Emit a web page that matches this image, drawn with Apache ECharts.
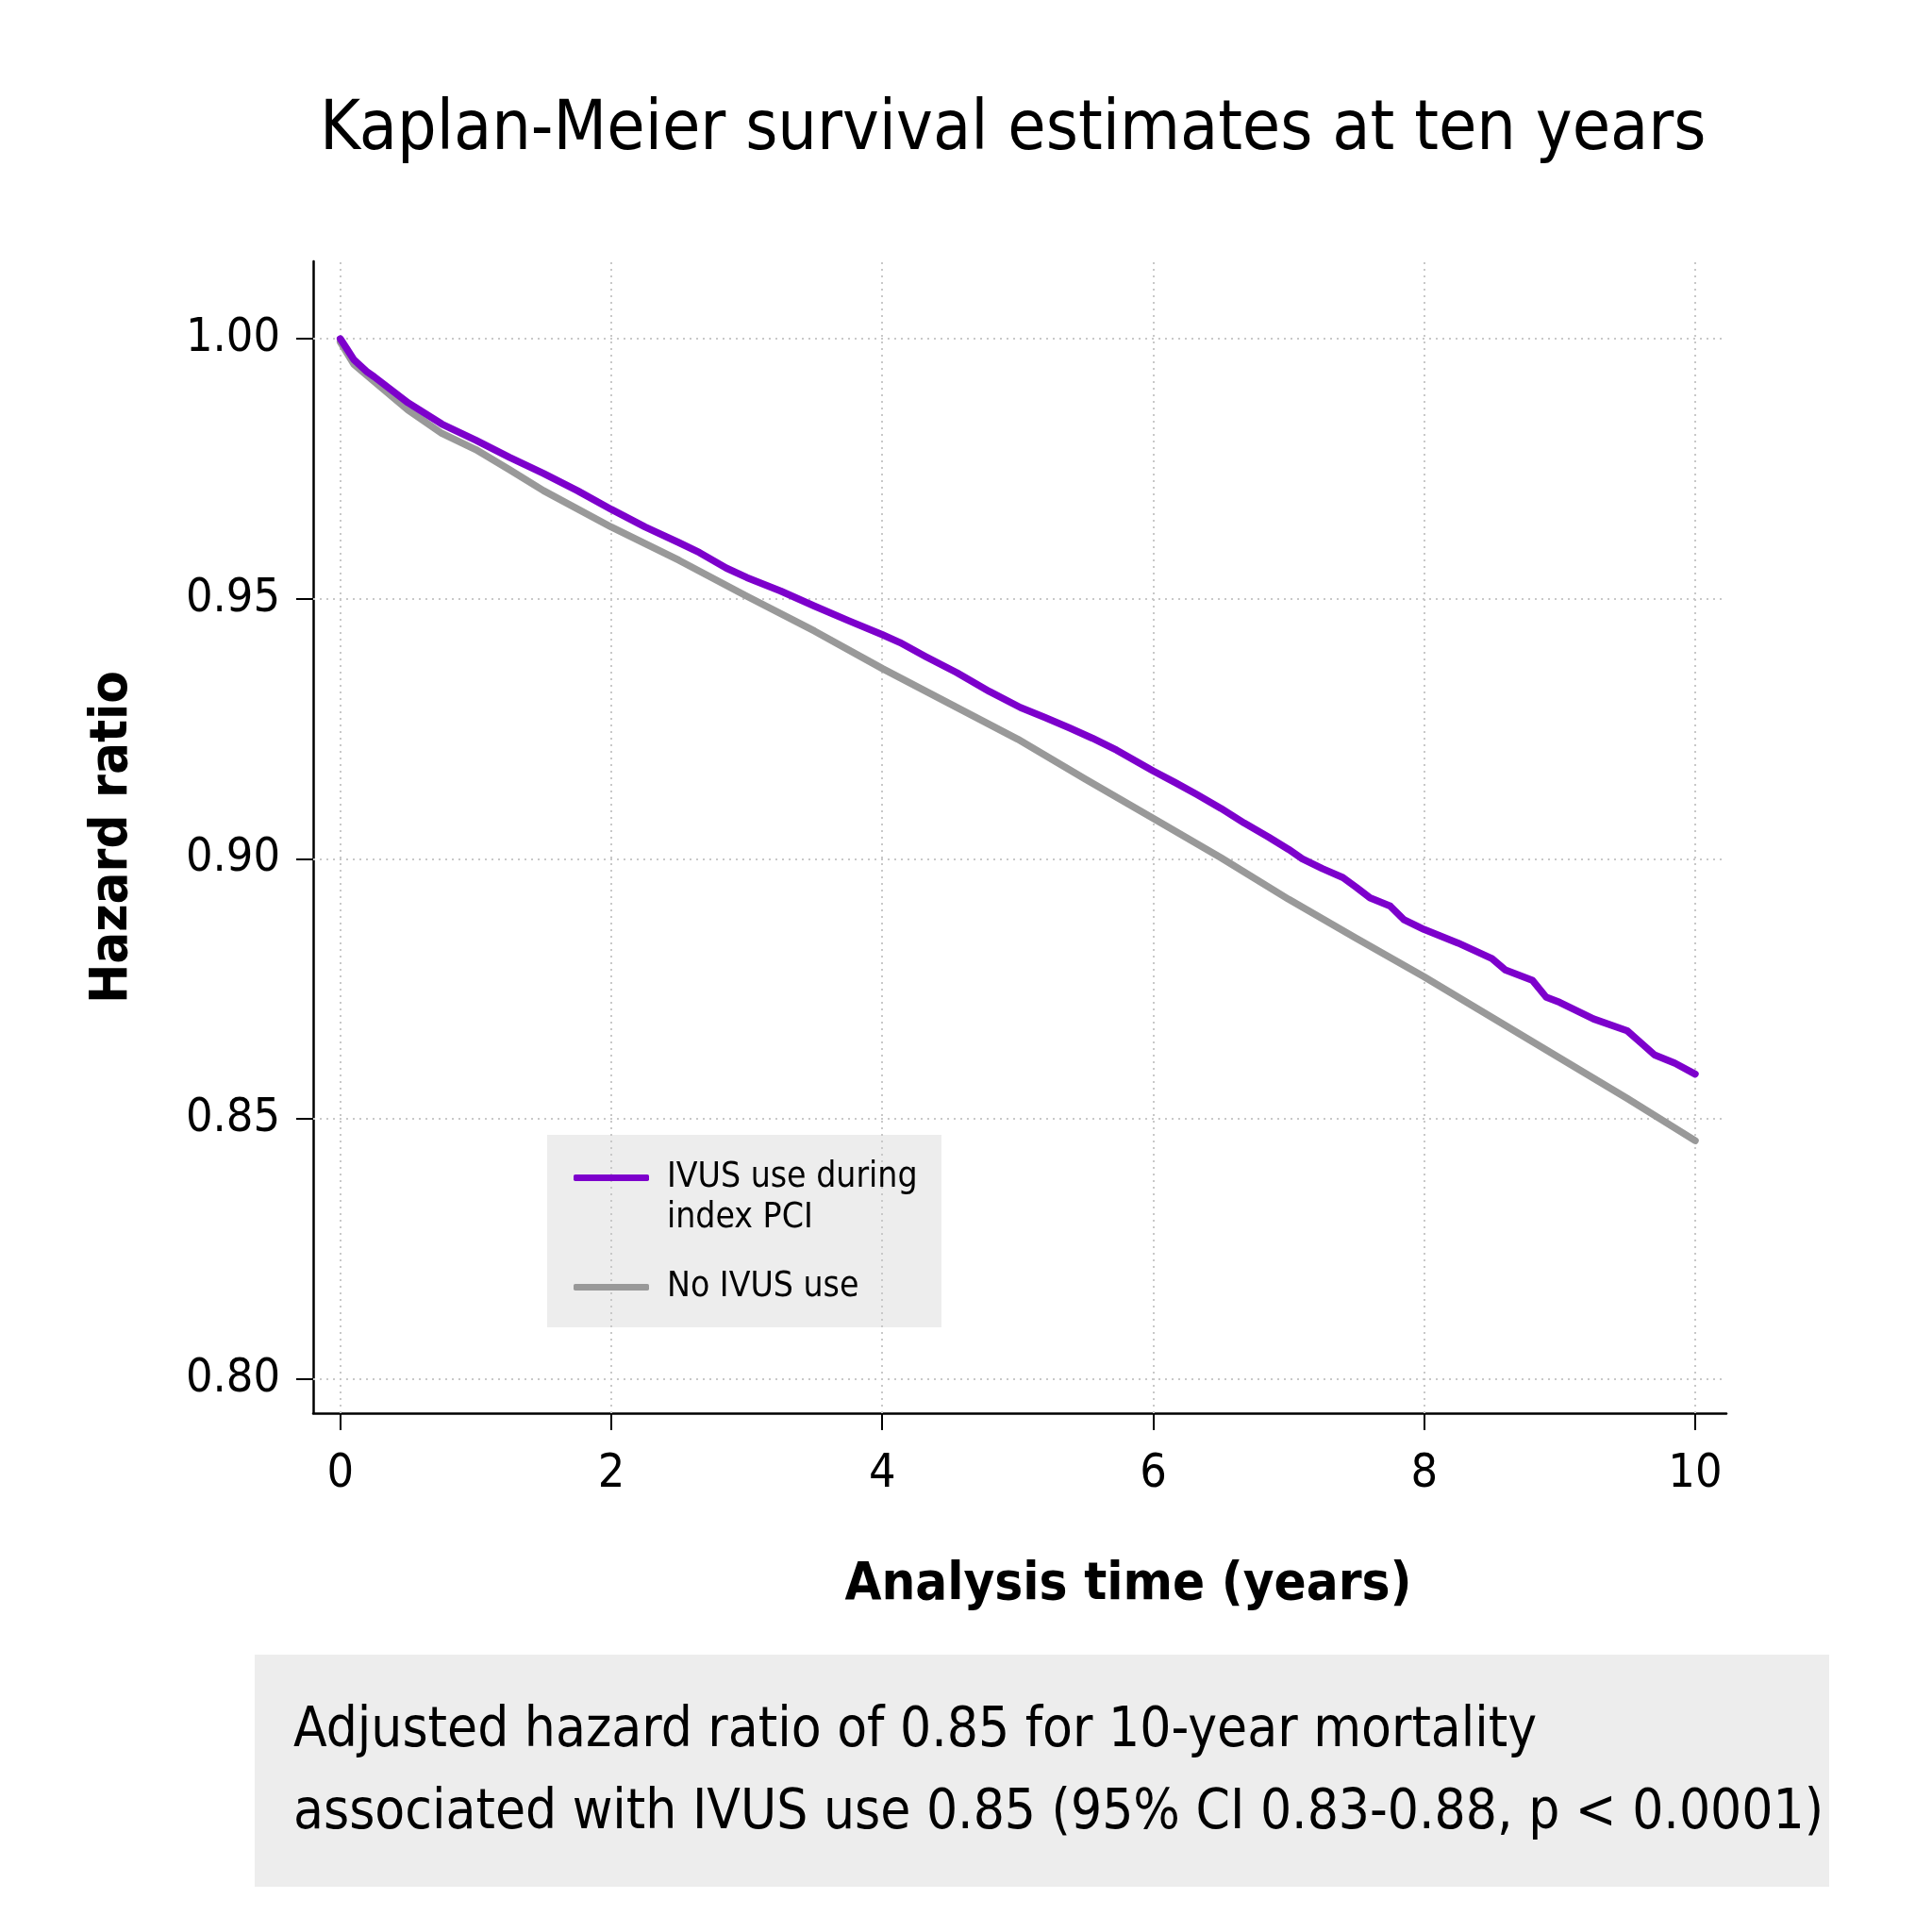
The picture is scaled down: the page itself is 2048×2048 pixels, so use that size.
<!DOCTYPE html>
<html>
<head>
<meta charset="utf-8">
<script src="https://cdn.jsdelivr.net/npm/echarts@6/dist/echarts.min.js"></script>
<style>
html,body{margin:0;padding:0;background:#fff;}
#chart{width:2048px;height:2048px;}
</style>
</head>
<body>
<div id="chart"></div>
<script>
const titleText = 'Kaplan-Meier survival estimates at ten years';
const yAxisName = 'Hazard ratio';
const xAxisName = 'Analysis time (years)';
const seriesNames = ['IVUS use during index PCI', 'No IVUS use'];
const footnoteLines = ['Adjusted hazard ratio of 0.85 for 10-year mortality', 'associated with IVUS use 0.85 (95% CI 0.83-0.88, p < 0.0001)'];

const xTicks = [0, 2, 4, 6, 8, 10];
const yTicks = [0.80, 0.85, 0.90, 0.95, 1.00];

const ivusTime = [0,0.05,0.1,0.2,0.25,0.5,0.75,1,1.25,1.5,1.75,2,2.25,2.5,2.65,2.75,2.85,3,3.25,3.5,3.75,4,4.13,4.32,4.55,4.79,5.02,5.2,5.38,5.55,5.73,6,6.16,6.32,6.5,6.67,6.85,7,7.1,7.25,7.4,7.5,7.6,7.75,7.85,8,8.25,8.5,8.6,8.8,8.9,9,9.25,9.5,9.6,9.7,9.85,10];
const ivusSurv = [1.000,0.998,0.9960,0.9936,0.9927,0.9877,0.9836,0.9805,0.9772,0.9741,0.9708,0.9672,0.9638,0.9608,0.9589,0.9574,0.9559,0.9541,0.9515,0.9486,0.9458,0.9431,0.9416,0.9389,0.9358,0.9322,0.9291,0.9272,0.9252,0.9232,0.9209,0.9169,0.9147,0.9124,0.9097,0.9069,0.9042,0.9018,0.9000,0.8981,0.8964,0.8945,0.8925,0.8909,0.8883,0.8864,0.8838,0.8808,0.8786,0.8766,0.8734,0.8724,0.8692,0.8669,0.8646,0.8623,0.8607,0.8586];

const noIvusTime = [0,0.1,0.25,0.5,0.75,1,1.25,1.5,2,2.5,3,3.5,4,4.5,5,5.5,6,6.5,7,7.5,8,8.5,9,9.5,10];
const noIvusSurv = [0.9994,0.9951,0.9918,0.9863,0.9818,0.9787,0.9748,0.9708,0.9638,0.9574,0.9505,0.9438,0.9366,0.9298,0.9230,0.9153,0.9078,0.9002,0.8922,0.8847,0.8773,0.8695,0.8617,0.8539,0.8458];

const FONT = "'DejaVu Sans Condensed', 'DejaVu Sans', sans-serif";
const PURPLE = '#7d00cc';
const GRAY = '#999999';

const chart = echarts.init(document.getElementById('chart'), null, {renderer: 'canvas'});

const zip = (a, b) => a.map((v, i) => [v, b[i]]);

const option = {
  backgroundColor: '#ffffff',
  animation: false,
  textStyle: {fontFamily: FONT},
  title: {
    text: titleText,
    left: 334,
    top: 98,
    textStyle: {fontFamily: FONT, fontSize: 73, fontWeight: 'normal', color: '#000'}
  },
  grid: {left: 332, top: 277, right: 218, bottom: 550, containLabel: false},
  xAxis: {
    type: 'value',
    min: -0.2,
    max: 10.23,
    name: xAxisName,
    nameLocation: 'middle',
    nameGap: 154,
    nameTextStyle: {fontFamily: FONT, fontSize: 56, fontWeight: 'bold', color: '#000', padding: [0, 0, 0, 230]},
    axisLine: {onZero: false, lineStyle: {color: '#000', width: 2.5}},
    axisTick: {show: true, length: 18, lineStyle: {color: '#000', width: 2}, customValues: xTicks},
    axisLabel: {customValues: xTicks, margin: 40, fontFamily: FONT, fontSize: 50, color: '#000'},
    splitLine: {show: false}
  },
  yAxis: {
    type: 'value',
    min: 0.7934,
    max: 1.0149,
    name: yAxisName,
    nameLocation: 'middle',
    nameGap: 185,
    nameTextStyle: {fontFamily: FONT, fontSize: 56, fontWeight: 'bold', color: '#000'},
    axisLine: {show: true, onZero: false, lineStyle: {color: '#000', width: 2.5}},
    axisTick: {show: true, length: 18, lineStyle: {color: '#000', width: 2}, customValues: yTicks},
    axisLabel: {customValues: yTicks, margin: 35, fontFamily: FONT, fontSize: 50, color: '#000',
      formatter: v => v.toFixed(2)},
    splitLine: {show: false}
  },
  legend: {
    orient: 'vertical',
    left: 603,
    top: 1179,
    data: [seriesNames[0], seriesNames[1]],
    icon: 'roundRect',
    itemWidth: 80,
    itemHeight: 7,
    itemGap: 30,
    textStyle: {fontFamily: FONT, fontSize: 37, color: '#000', lineHeight: 43, padding: [0, 0, 0, 14]},
    formatter: name => name === seriesNames[0] ? '\nIVUS use during\nindex PCI' : name,
    selectedMode: false
  },
  graphic: [
    {type: 'rect', left: 580, top: 1203, z: 0, silent: true,
     shape: {width: 418, height: 204}, style: {fill: '#ededed'}},
    {type: 'group', left: 270, top: 1754, silent: true, children: [
      {type: 'rect', shape: {width: 1669, height: 246}, style: {fill: '#ededed'}},
      {type: 'text', left: 41, top: 38, style: {text: footnoteLines.join('\n'), font: '58px ' + FONT, fill: '#000', lineHeight: 87}}
    ]}
  ],
  series: [
    {
      name: seriesNames[1], type: 'line', data: zip(noIvusTime, noIvusSurv),
      showSymbol: false, symbol: 'none', smooth: false, z: 3,
      lineStyle: {color: GRAY, width: 7.5, cap: 'round', join: 'round'},
      itemStyle: {color: GRAY},
      markLine: {
        silent: true, symbol: ['none', 'none'], z: 1, animation: false,
        label: {show: false},
        lineStyle: {color: '#c8c8c8', width: 2, type: [2, 5]},
        emphasis: {disabled: true},
        data: xTicks.map(v => ({xAxis: v})).concat(yTicks.map(v => ({yAxis: v})))
      }
    },
    {
      name: seriesNames[0], type: 'line', data: zip(ivusTime, ivusSurv),
      showSymbol: false, symbol: 'none', smooth: false, z: 4,
      lineStyle: {color: PURPLE, width: 7.5, cap: 'round', join: 'round'},
      itemStyle: {color: PURPLE}
    }
  ]
};
chart.setOption(option);
</script>
</body>
</html>
